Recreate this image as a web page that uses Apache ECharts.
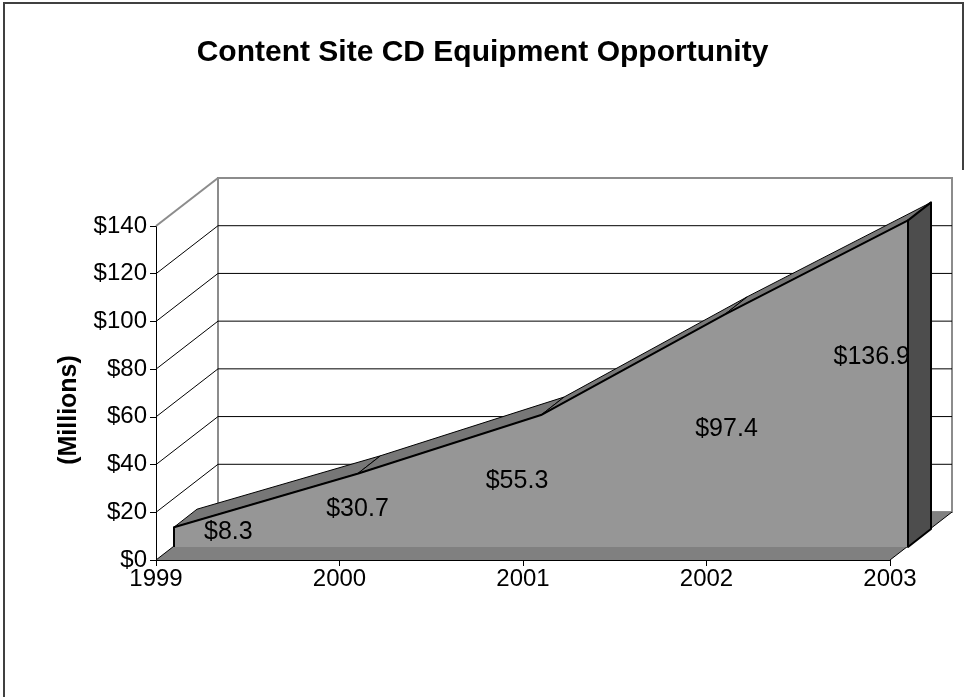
<!DOCTYPE html>
<html>
<head>
<meta charset="utf-8">
<title>Content Site CD Equipment Opportunity</title>
<script src="https://cdn.jsdelivr.net/npm/echarts@6/dist/echarts.min.js"></script>
<style>
  html, body { margin: 0; padding: 0; background: #ffffff; }
  #chart { width: 965px; height: 697px; }
</style>
</head>
<body>
<div id="chart"></div>
<script>
// Market size by year, in millions of dollars
const years = ['1999', '2000', '2001', '2002', '2003'];
const revenue = [8.3, 30.7, 55.3, 97.4, 136.9];
const yTicks = [0, 20, 40, 60, 80, 100, 120, 140];

// Pseudo-3D look: screen offsets for the receding depth axis
const DEPTH = [62, -48];        // floor / side wall depth
const SLAB_FRONT = [18, -13];   // front face of the area slab
const SLAB_BACK = [41, -31];    // back face of the area slab
// Label nudges (dx, dy, align) for each data label
const LABEL_NUDGE = [[30, -5, 'left'], [0, -1, 'center'], [-24, 0, 'center'], [2, -2, 'center'], [2, -27, 'right']];

const FONT = '"Liberation Sans", Arial, Helvetica, sans-serif';
const yMax = yTicks[yTicks.length - 1];
const lastIdx = years.length - 1;

function shift(p, d) { return [p[0] + d[0], p[1] + d[1]]; }

// Back wall, floor, side wall diagonals and back-wall gridlines
function renderWalls(params, api) {
  const v = api.value(1);
  const children = [];
  if (params.dataIndex === 0) {
    const tl = shift(api.coord([0, yMax]), DEPTH);
    const br = shift(api.coord([lastIdx, 0]), DEPTH);
    children.push({
      type: 'rect',
      shape: { x: tl[0], y: tl[1], width: br[0] - tl[0], height: br[1] - tl[1] },
      style: { fill: '#ffffff', stroke: '#8c8c8c', lineWidth: 2 }
    });
    const f0 = api.coord([0, 0]);
    const f1 = api.coord([lastIdx, 0]);
    children.push({
      type: 'polygon',
      shape: { points: [f0, f1, shift(f1, DEPTH), shift(f0, DEPTH)] },
      style: { fill: '#808080', stroke: null }
    });
    children.push({
      type: 'line',
      shape: { x1: f1[0], y1: f1[1], x2: f1[0] + DEPTH[0], y2: f1[1] + DEPTH[1] },
      style: { stroke: '#000000', lineWidth: 1 }
    });
  }
  const front = api.coord([0, v]);
  const back = shift(front, DEPTH);
  const backRight = shift(api.coord([lastIdx, v]), DEPTH);
  const isTop = v === yMax;
  children.push({
    type: 'line',
    shape: { x1: front[0], y1: front[1], x2: back[0], y2: back[1] },
    style: { stroke: isTop ? '#8c8c8c' : '#000000', lineWidth: isTop ? 2 : 1 }
  });
  if (v !== 0 && !isTop) {
    children.push({
      type: 'line',
      shape: { x1: back[0], y1: back[1], x2: backRight[0], y2: backRight[1] },
      style: { stroke: '#000000', lineWidth: 1 }
    });
  }
  return { type: 'group', children: children };
}

// The area drawn as a slab: front face, top surface and right end
function renderSlab(params, api) {
  const i = params.dataIndex;
  const n = revenue.length;
  const K = [SLAB_BACK[0] - SLAB_FRONT[0], SLAB_BACK[1] - SLAB_FRONT[1]];
  const children = [];
  if (i === 0) {
    const front = revenue.map((v, k) => shift(api.coord([k, v]), SLAB_FRONT));
    const base0 = shift(api.coord([0, 0]), SLAB_FRONT);
    const baseN = shift(api.coord([n - 1, 0]), SLAB_FRONT);
    for (let k = 0; k < n - 1; k++) {
      children.push({
        type: 'polygon',
        shape: { points: [front[k], front[k + 1], shift(front[k + 1], K), shift(front[k], K)] },
        style: { fill: '#777777', stroke: '#000000', lineWidth: 1, lineJoin: 'round' }
      });
    }
    children.push({
      type: 'polygon',
      shape: { points: [front[n - 1], shift(front[n - 1], K), shift(baseN, K), baseN] },
      style: { fill: '#4d4d4d', stroke: '#000000', lineWidth: 2, lineJoin: 'round' }
    });
    children.push({
      type: 'polygon',
      shape: { points: [base0].concat(front, [baseN]) },
      style: { fill: '#969696', stroke: null }
    });
    children.push({
      type: 'polyline',
      shape: { points: [base0].concat(front, [baseN]) },
      style: { fill: null, stroke: '#000000', lineWidth: 2, lineJoin: 'round' }
    });
  }
  const v = api.value(1);
  const top = shift(api.coord([i, v]), SLAB_FRONT);
  const bottom = shift(api.coord([i, 0]), SLAB_FRONT);
  const nudge = LABEL_NUDGE[i];
  children.push({
    type: 'text',
    style: {
      x: top[0] + nudge[0],
      y: (top[1] + bottom[1]) / 2 + nudge[1],
      text: '$' + v.toFixed(1),
      fill: '#000000',
      font: '25px ' + FONT,
      align: nudge[2],
      verticalAlign: 'middle'
    }
  });
  return { type: 'group', children: children };
}

const chart = echarts.init(document.getElementById('chart'), null, { renderer: 'canvas' });
chart.setOption({
  animation: false,
  backgroundColor: '#ffffff',
  title: {
    text: 'Content Site CD Equipment Opportunity',
    left: 'center',
    top: 33,
    textStyle: { fontFamily: FONT, fontSize: 30, fontWeight: 'bold', color: '#000000' }
  },
  graphic: [
    { type: 'polyline', shape: { points: [[4, 697], [4, 3], [963, 3], [963, 170]] },
      style: { stroke: '#404040', lineWidth: 2, fill: null }, silent: true }
  ],
  grid: { left: 156, right: 75, top: 226, bottom: 137, containLabel: false },
  xAxis: {
    type: 'category',
    data: years,
    boundaryGap: false,
    axisLine: { show: true, lineStyle: { color: '#000000', width: 1 } },
    axisTick: { show: true, length: 6, lineStyle: { color: '#000000' } },
    axisLabel: { color: '#000000', fontFamily: FONT, fontSize: 24, margin: 7 },
    splitLine: { show: false }
  },
  yAxis: {
    type: 'value',
    min: 0,
    max: yMax,
    interval: 20,
    name: '(Millions)',
    nameLocation: 'middle',
    nameRotate: 90,
    nameGap: 74,
    nameTextStyle: { fontFamily: FONT, fontSize: 25, fontWeight: 'bold', color: '#000000', padding: [0, 34, 0, 0] },
    axisLine: { show: true, lineStyle: { color: '#000000', width: 1 } },
    axisTick: { show: true, length: 6, lineStyle: { color: '#000000' } },
    axisLabel: { color: '#000000', fontFamily: FONT, fontSize: 24, margin: 9, formatter: v => '$' + v },
    splitLine: { show: false }
  },
  series: [
    {
      type: 'custom',
      name: 'walls',
      renderItem: renderWalls,
      data: yTicks.map(v => [0, v]),
      z: 1,
      silent: true,
      clip: false
    },
    {
      type: 'custom',
      name: 'Opportunity',
      renderItem: renderSlab,
      data: revenue.map((v, i) => [i, v]),
      z: 2,
      silent: true,
      clip: false
    }
  ]
});
</script>
</body>
</html>
